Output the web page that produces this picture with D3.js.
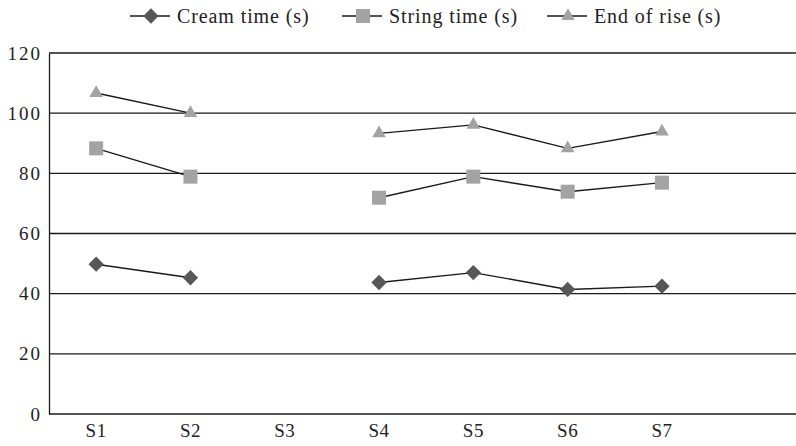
<!DOCTYPE html>
<html>
<head>
<meta charset="utf-8">
<script src="https://cdn.jsdelivr.net/npm/d3@7"></script>
<style>
  body { margin: 0; background: #fff; }
  svg text { font-family: 'Liberation Serif', 'DejaVu Serif', serif; fill: #222; }
</style>
</head>
<body>
<div id="chart"></div>
<script>
// samples on the x axis (S3 has no readings)
const categories = ['S1', 'S2', 'S3', 'S4', 'S5', 'S6', 'S7'];
const creamTime = [49.8, 45.3, null, 43.7, 47, 41.4, 42.5];
const stringTime = [88.3, 78.9, null, 71.9, 78.9, 73.9, 76.9];
const endOfRise = [106.7, 100, null, 93.3, 96.1, 88.3, 93.9];
const yTicks = [0, 20, 40, 60, 80, 100, 120];

const series = [
  { name: 'Cream time (s)', values: creamTime, symbol: 'diamond', color: '#575757' },
  { name: 'String time (s)', values: stringTime, symbol: 'square', color: '#a3a3a3' },
  { name: 'End of rise (s)', values: endOfRise, symbol: 'triangle', color: '#a3a3a3' }
];

const width = 796, height = 446;
const plotLeft = 49, plotTop = 53, plotBottom = 414;

const svg = d3.select('#chart').append('svg')
  .attr('width', width)
  .attr('height', height);

// one empty slot after S7, the plot runs off the right edge
const x = d3.scaleBand()
  .domain(categories.concat(['']))
  .range([plotLeft, plotLeft + 8 * 94.3]);

const y = d3.scaleLinear()
  .domain([0, 120])
  .range([plotBottom, plotTop]);

// gridlines
svg.append('g')
  .selectAll('line')
  .data(yTicks)
  .join('line')
  .attr('x1', plotLeft)
  .attr('x2', width)
  .attr('y1', d => y(d))
  .attr('y2', d => y(d))
  .attr('stroke', '#1a1a1a')
  .attr('stroke-width', 1.3);

// y axis
const yAxis = svg.append('g')
  .attr('transform', `translate(${plotLeft},0)`)
  .call(d3.axisLeft(y).tickValues(yTicks).tickSize(0).tickPadding(7));
yAxis.select('.domain').attr('stroke', '#1a1a1a').attr('stroke-width', 1.3);
yAxis.selectAll('text').attr('font-size', 19).attr('fill', '#222')
  .attr('letter-spacing', 2)
  .attr('font-family', "'Liberation Serif', serif");

// x axis
const xAxis = svg.append('g')
  .attr('transform', `translate(0,${plotBottom})`)
  .call(d3.axisBottom(x).tickValues(categories).tickSize(0).tickPadding(10));
xAxis.select('.domain').remove();
xAxis.selectAll('text').attr('font-size', 19).attr('fill', '#222')
  .attr('letter-spacing', 0.5)
  .attr('font-family', "'Liberation Serif', serif");

const cx = c => x(c) + x.bandwidth() / 2;

function symbolPath(kind) {
  if (kind === 'diamond') return d3.symbol().type(d3.symbolDiamond2).size(150)();
  if (kind === 'square') return d3.symbol().type(d3.symbolSquare).size(196)();
  return d3.symbol().type(d3.symbolTriangle).size(80)();
}

const line = d3.line()
  .defined(d => d.v != null)
  .x(d => cx(d.c))
  .y(d => y(d.v));

series.forEach(s => {
  const pts = categories.map((c, i) => ({ c: c, v: s.values[i] }));
  svg.append('path')
    .datum(pts)
    .attr('d', line)
    .attr('fill', 'none')
    .attr('stroke', '#1a1a1a')
    .attr('stroke-width', 1.4);

  svg.append('g')
    .selectAll('path')
    .data(pts.filter(d => d.v != null))
    .join('path')
    .attr('d', symbolPath(s.symbol))
    .attr('transform', d => `translate(${cx(d.c)},${y(d.v)})`)
    .attr('fill', s.color);
});

// legend
const legendX = [130, 342, 547];
const legend = svg.append('g');
series.forEach((s, i) => {
  const g = legend.append('g').attr('transform', `translate(${legendX[i]},16)`);
  g.append('line')
    .attr('x1', 0).attr('x2', 40)
    .attr('stroke', '#1a1a1a').attr('stroke-width', 1.4);
  g.append('path')
    .attr('d', symbolPath(s.symbol))
    .attr('transform', 'translate(21,0)')
    .attr('fill', s.color);
  g.append('text')
    .attr('x', 47)
    .attr('y', 7)
    .attr('font-size', 20)
    .attr('letter-spacing', 0.9)
    .text(s.name);
});
</script>
</body>
</html>
